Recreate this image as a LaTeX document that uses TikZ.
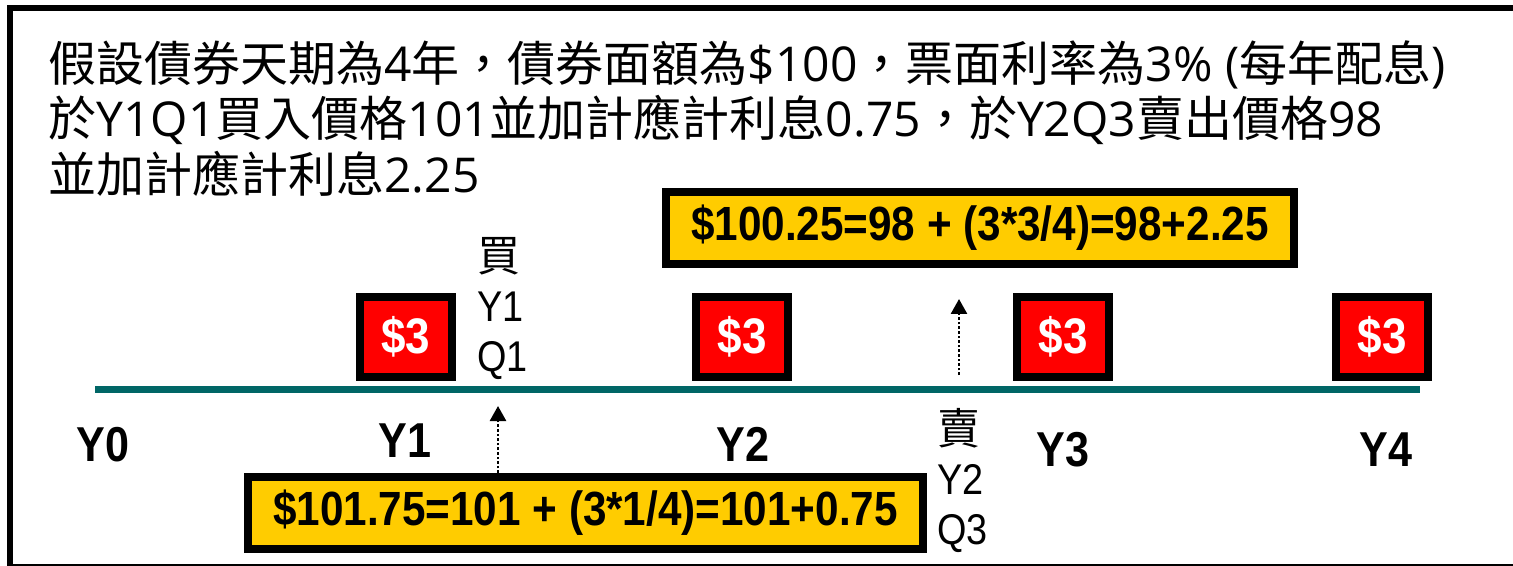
\documentclass[tikz,border=0pt]{standalone}
\usepackage{fontspec}
\setmainfont{Liberation Sans}
\newfontfamily\cjkfont{Noto Sans CJK TC}
\newfontfamily\latinfont{Open Sans}
\newfontfamily\narrowfont{Liberation Sans}[FakeStretch=0.88]
\newcommand{\lat}[1]{{\latinfont #1}}
\usetikzlibrary{arrows.meta}
\definecolor{linegreen}{RGB}{0,102,102}
\definecolor{boxyellow}{RGB}{255,204,0}
\definecolor{boxred}{RGB}{255,0,0}
\tikzset{
  intro/.style={anchor=base west, inner sep=0pt, font=\cjkfont\fontsize{24}{28}\selectfont},
  coupon/.style={draw=black, line width=4pt, fill=boxred, text=white, inner sep=0pt,
    minimum width=46pt, minimum height=39.5pt, font=\narrowfont\bfseries\fontsize{25}{30}\selectfont},
  pricebox/.style={draw=black, line width=4pt, fill=boxyellow, inner sep=0pt,
    minimum width=314pt, minimum height=36pt, font=\narrowfont\bfseries\fontsize{24}{29}\selectfont},
  yearlab/.style={inner sep=0pt, font=\narrowfont\bfseries\fontsize{24.5}{29}\selectfont},
  stacklab/.style={anchor=north west, inner sep=0pt, align=left, font=\narrowfont\fontsize{21.5}{25}\selectfont},
  dotarrow/.style={densely dotted, line width=1.3pt, -{Triangle[length=7.5pt, width=8pt]}}
}
\begin{document}
\begin{tikzpicture}[x=0.5pt, y=-0.5pt]
    \useasboundingbox (0,0) rectangle (1513,566);
    \draw[line width=3pt] (10,566) -- (10,8) -- (1515,8);
    \draw[line width=0.6pt] (10,565) -- (1515,565);
    \node[intro] (line1) at (48,82) {假設債券天期為\lat{4}年，債券面額為\lat{\$100}，票面利率為\lat{3\% (}每年配息\lat{)}};
    \node[intro] (line2) at (48,137) {於\lat{Y1Q1}買入價格\lat{101}並加計應計利息\lat{0.75}，於\lat{Y2Q3}賣出價格\lat{98}};
    \node[intro] (line3) at (48,193) {並加計應計利息\lat{2.25}};
    % time line
    \coordinate (start) at (95,389.5);
    \coordinate (end) at (1420,389.5);
    \draw[linegreen, line width=3.5pt] (start) -- (end);
    \foreach \x [count=\i] in {406,742,1063,1382}
        \node[coupon] (c\i) at (\x,337) {\$3};
    \foreach \x/\y [count=\i from 0] in {103/445,405/441,743/444,1063/450,1386/450}
        \node[yearlab] (y\i) at (\x,\y) {Y\i};
    \node[pricebox] (sell) at (980,228) {\$100.25=98 + (3*3/4)=98+2.25};
    \node[pricebox, minimum width=337.5pt] (buy) at (585.5,513) {\$101.75=101 + (3*1/4)=101+0.75};
    \node[stacklab] (buylab) at (477,237) {{\cjkfont 買}\\Y1\\Q1};
    \node[stacklab] (selllab) at (937,408) {{\cjkfont 賣}\\Y2\\Q3};
    \coordinate (buytip) at (498,406);
    \coordinate (selltail) at (959,375);
    \coordinate (selltip) at (959,299);
    \draw[dotarrow] (buytip |- buy.north) -- (buytip);
    \draw[dotarrow] (selltail) -- (selltip);
\end{tikzpicture}
\end{document}
